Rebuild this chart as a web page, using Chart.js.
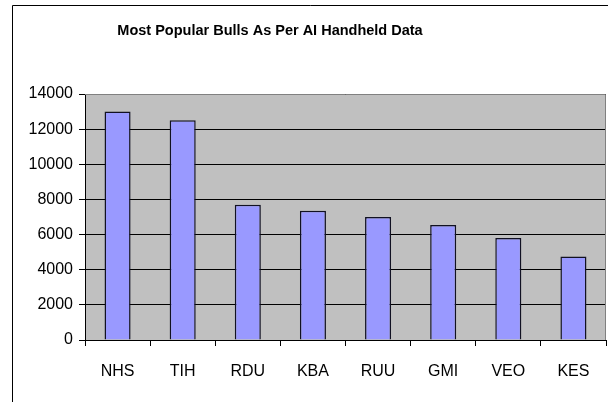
<!DOCTYPE html>
<html>
<head>
<meta charset="utf-8">
<script src="https://cdn.jsdelivr.net/npm/chart.js@4.4.0/dist/chart.umd.min.js"></script>
<style>
  body { margin: 0; background: #fff; }
</style>
</head>
<body>
<canvas id="barChart" width="608" height="402"></canvas>
<script>
// Bar Chart

var bulls = ["NHS", "TIH", "RDU", "KBA", "RUU", "GMI", "VEO", "KES"];
var counts = [13000, 12500, 7700, 7350, 7000, 6550, 5800, 4750];
var yTicks = [0, 2000, 4000, 6000, 8000, 10000, 12000, 14000];
var chartTitle = "Most Popular Bulls As Per AI Handheld Data";

var fontFamily = "'Liberation Sans', Arial, sans-serif";

// grey plot area, outer frame and title
var excelLook = {
	id: 'excelLook',
	beforeDraw: function(chart) {
		var c = chart.ctx, a = chart.chartArea;
		c.save();
		c.fillStyle = '#C0C0C0';
		c.fillRect(a.left, a.top, a.right - a.left, a.bottom - a.top);
		c.strokeStyle = '#000';
		c.lineWidth = 1;
		c.beginPath();
		c.moveTo(12.5, 402);
		c.lineTo(12.5, 5.5);
		c.lineTo(608, 5.5);
		c.stroke();
		c.fillStyle = '#000';
		c.font = 'bold 14.5px ' + fontFamily;
		c.textAlign = 'center';
		c.textBaseline = 'middle';
		c.fillText(chartTitle, 270, 31);
		c.restore();
	},
	afterDatasetsDraw: function(chart) {
		var c = chart.ctx, a = chart.chartArea;
		c.save();
		c.strokeStyle = '#808080';
		c.lineWidth = 1;
		c.beginPath();
		c.moveTo(a.left, a.top + 0.5);
		c.lineTo(a.right - 0.5, a.top + 0.5);
		c.lineTo(a.right - 0.5, a.bottom);
		c.stroke();
		c.restore();
	}
};

var ctx = document.getElementById("barChart").getContext('2d');
var barChart = new Chart(ctx, {
	type: 'bar',
	data: {
		labels: bulls,
		datasets: [{
			label: 'Bulls',
			data: counts,
			backgroundColor: '#9999FF',
			borderColor: '#111122',
			borderWidth: 1.5,
			barPercentage: 1,
			categoryPercentage: 0.4
		}]
	},
	options: {
		responsive: false,
		animation: false,
		layout: {
			padding: { top: 94, left: 0, right: 2, bottom: 22 }
		},
		plugins: {
			legend: { display: false },
			tooltip: { enabled: false }
		},
		scales: {
			x: {
				afterFit: function(s) { s.height = 40; },
				grid: {
					drawOnChartArea: false,
					drawTicks: true,
					tickLength: 6,
					tickColor: '#000'
				},
				border: { color: '#000', width: 1 },
				ticks: {
					color: '#000',
					padding: 16,
					font: { family: fontFamily, size: 16 }
				}
			},
			y: {
				min: 0,
				max: 14000,
				afterFit: function(s) { s.width = 85; },
				afterBuildTicks: function(s) {
					s.ticks = yTicks.map(function(v) { return { value: v }; });
				},
				grid: {
					color: '#000',
					tickColor: '#000',
					tickLength: 6,
					lineWidth: 1
				},
				border: { color: '#000', width: 1 },
				ticks: {
					color: '#000',
					padding: 6,
					font: { family: fontFamily, size: 16 },
					callback: function(v) { return String(v); }
				}
			}
		}
	},
	plugins: [excelLook]
});
</script>
</body>
</html>
